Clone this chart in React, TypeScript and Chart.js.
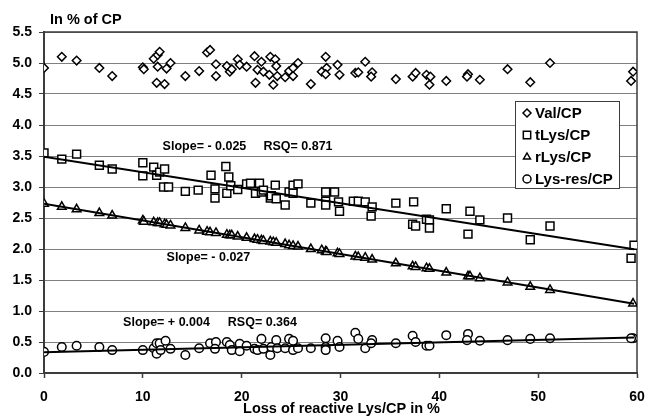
import { useEffect, useRef } from "react";
import { Chart, registerables } from "chart.js";

Chart.register(...registerables);

// Series names in legend order
const seriesNames = ["Val/CP", "tLys/CP", "rLys/CP", "Lys-res/CP"];

// Val/CP
const valX = [0, 1.8, 3.3, 5.6, 6.9, 10.0, 10.1, 11.1, 11.5, 11.7, 11.5, 11.4, 12.2, 12.4, 12.8, 14.3, 15.7, 16.5, 16.8, 17.4, 17.4, 18.5, 18.8, 19.0, 19.6, 19.8, 20.5, 21.3, 21.6, 21.4, 22.0, 22.2, 22.9, 22.8, 23.2, 23.4, 23.5, 23.6, 24.4, 24.8, 25.2, 25.2, 25.7, 27.0, 28.1, 28.5, 28.6, 28.5, 29.7, 29.9, 31.5, 31.8, 32.5, 33.2, 33.1, 35.6, 37.3, 37.6, 38.7, 39.1, 39.0, 40.7, 42.9, 42.8, 44.1, 46.9, 49.2, 51.2, 59.6, 59.4];
const valY = [4.92, 5.10, 5.04, 4.92, 4.79, 4.93, 4.90, 5.07, 5.13, 5.18, 4.94, 4.68, 4.66, 4.91, 5.00, 4.79, 4.87, 5.17, 5.21, 4.98, 4.79, 4.95, 4.86, 4.90, 5.06, 4.97, 4.94, 5.11, 4.89, 4.68, 5.02, 4.86, 5.10, 4.81, 4.65, 5.06, 4.95, 4.79, 4.77, 4.87, 4.92, 4.79, 5.00, 4.66, 4.86, 5.10, 4.92, 4.82, 4.97, 4.81, 4.84, 4.85, 5.02, 4.85, 4.78, 4.74, 4.78, 4.84, 4.81, 4.78, 4.65, 4.71, 4.82, 4.78, 4.73, 4.90, 4.69, 5.00, 4.86, 4.71];

// tLys/CP
const tLysX = [0, 1.8, 3.3, 5.6, 6.9, 10.0, 10.0, 11.1, 11.4, 11.7, 12.2, 12.1, 12.6, 14.3, 15.6, 16.9, 18.4, 18.7, 17.3, 17.3, 18.5, 18.9, 19.6, 20.5, 20.9, 21.4, 21.8, 22.0, 22.2, 22.9, 23.0, 23.4, 23.5, 24.4, 24.8, 25.2, 25.2, 25.7, 27.0, 28.5, 28.5, 28.5, 29.4, 29.8, 29.9, 31.3, 31.8, 32.5, 33.2, 33.1, 35.6, 37.4, 37.3, 37.6, 38.7, 39.0, 39.0, 40.7, 42.9, 43.1, 44.1, 46.9, 49.2, 51.2, 59.7, 59.4];
const tLysY = [3.55, 3.45, 3.53, 3.35, 3.29, 3.39, 3.18, 3.32, 3.19, 3.24, 3.29, 3.00, 3.00, 2.93, 2.95, 3.19, 3.33, 3.16, 2.97, 2.82, 2.90, 3.02, 2.96, 3.05, 3.06, 2.90, 3.06, 2.92, 2.95, 2.82, 2.86, 3.03, 2.81, 2.71, 2.92, 2.90, 3.03, 3.05, 2.74, 2.92, 2.77, 2.71, 2.92, 2.76, 2.61, 2.77, 2.77, 2.76, 2.68, 2.53, 2.74, 2.76, 2.40, 2.37, 2.48, 2.47, 2.34, 2.65, 2.24, 2.61, 2.47, 2.50, 2.15, 2.37, 2.06, 1.85];

// rLys/CP
const rLysX = [0, 1.8, 3.3, 5.6, 6.9, 10.0, 10.1, 11.1, 11.5, 11.7, 12.2, 12.4, 12.8, 14.3, 15.7, 16.5, 16.8, 17.4, 18.5, 18.8, 19.0, 19.6, 20.5, 21.3, 21.6, 22.0, 22.2, 22.9, 23.2, 23.5, 24.4, 24.8, 25.2, 25.7, 27.0, 28.1, 28.5, 28.6, 29.7, 29.9, 31.5, 31.8, 32.5, 33.2, 35.6, 37.3, 37.6, 38.7, 39.0, 40.7, 42.9, 43.1, 44.1, 46.9, 49.2, 51.2, 59.6];
const rLysY = [2.73, 2.68, 2.64, 2.58, 2.54, 2.46, 2.44, 2.43, 2.42, 2.42, 2.40, 2.39, 2.38, 2.34, 2.30, 2.28, 2.27, 2.26, 2.23, 2.22, 2.22, 2.20, 2.18, 2.16, 2.15, 2.14, 2.13, 2.12, 2.11, 2.10, 2.08, 2.06, 2.05, 2.04, 2.00, 1.98, 1.96, 1.95, 1.93, 1.92, 1.88, 1.87, 1.86, 1.83, 1.77, 1.72, 1.71, 1.69, 1.68, 1.62, 1.56, 1.56, 1.53, 1.46, 1.39, 1.34, 1.12];

// Lys-res/CP
const lysResX = [0, 1.8, 3.3, 5.6, 6.9, 10.0, 11.1, 11.4, 11.7, 11.4, 11.8, 12.3, 12.8, 14.3, 15.7, 16.8, 17.4, 17.3, 18.5, 18.8, 19.0, 19.8, 19.8, 20.5, 21.3, 21.6, 22.0, 22.2, 22.9, 23.0, 23.5, 23.6, 24.4, 24.8, 25.2, 25.2, 25.7, 27.0, 28.5, 28.5, 28.5, 29.7, 29.9, 31.5, 31.8, 32.5, 33.2, 33.1, 35.6, 37.3, 37.6, 38.7, 39.0, 40.7, 42.9, 42.8, 44.1, 46.9, 49.2, 51.2, 59.6, 59.4];
const lysResY = [0.34, 0.42, 0.44, 0.42, 0.37, 0.37, 0.40, 0.48, 0.48, 0.31, 0.37, 0.52, 0.39, 0.29, 0.40, 0.48, 0.50, 0.39, 0.50, 0.45, 0.37, 0.47, 0.35, 0.44, 0.39, 0.37, 0.55, 0.39, 0.29, 0.42, 0.53, 0.40, 0.40, 0.55, 0.52, 0.37, 0.40, 0.40, 0.56, 0.42, 0.37, 0.52, 0.42, 0.65, 0.55, 0.40, 0.53, 0.48, 0.48, 0.60, 0.50, 0.44, 0.44, 0.61, 0.63, 0.53, 0.52, 0.53, 0.55, 0.56, 0.56, 0.56];

// Linear trends for tLys, rLys and Lys-res
const trendIntercepts = [3.49, 2.73, 0.335];
const trendSlopes = [-0.025, -0.027, 0.004];
const trendRange = [0, 59.7];

// Axis ticks
const xTicks = [0, 10, 20, 30, 40, 50, 60];
const yTicks = [0, 0.5, 1.0, 1.5, 2.0, 2.5, 3.0, 3.5, 4.0, 4.5, 5.0, 5.5];

// Titles and statistic labels
const yTitle = "In % of CP";
const xTitle = "Loss of reactive Lys/CP in %";
const statTexts = ["Slope= - 0.025", "RSQ= 0.871", "Slope= - 0.027", "Slope= + 0.004", "RSQ= 0.364"];
// where each statistic label starts, in axis units
const statAnchors = [
  [12.0, 3.66],
  [22.2, 3.66],
  [12.4, 1.87],
  [8.0, 0.82],
  [18.6, 0.82],
];

const FONT = "'Liberation Sans', Arial, Helvetica, sans-serif";
const markerStyles = [
  { pointStyle: "rectRot", radius: 4.3 },
  { pointStyle: "rect", radius: 5.6 },
  { pointStyle: "triangle", radius: 5 },
  { pointStyle: "circle", radius: 4.3 },
];

const pts = (xs: number[], ys: number[]) => xs.map((x, i) => ({ x, y: ys[i] }));

function drawMarker(ctx: CanvasRenderingContext2D, kind: string, x: number, y: number, r: number) {
  ctx.beginPath();
  if (kind === "rectRot") {
    ctx.moveTo(x, y - r);
    ctx.lineTo(x + r, y);
    ctx.lineTo(x, y + r);
    ctx.lineTo(x - r, y);
    ctx.closePath();
  } else if (kind === "rect") {
    const s = r * Math.SQRT1_2;
    ctx.rect(x - s, y - s, 2 * s, 2 * s);
  } else if (kind === "triangle") {
    const h = r * 0.866;
    ctx.moveTo(x, y - r);
    ctx.lineTo(x + h, y + r / 2);
    ctx.lineTo(x - h, y + r / 2);
    ctx.closePath();
  } else {
    ctx.arc(x, y, r, 0, Math.PI * 2);
  }
  ctx.fillStyle = "#fff";
  ctx.fill();
  ctx.strokeStyle = "#000";
  ctx.lineWidth = 1.5;
  ctx.stroke();
}

const decorations = {
  id: "decorations",
  beforeDatasetsDraw(chart: any) {
    const { ctx, chartArea: a } = chart;
    ctx.save();
    ctx.strokeStyle = "#3c3c3c";
    ctx.lineWidth = 1.5;
    ctx.beginPath();
    ctx.moveTo(a.left, a.top);
    ctx.lineTo(a.right, a.top);
    ctx.lineTo(a.right, a.bottom);
    ctx.stroke();
    ctx.restore();
  },
  afterDatasetsDraw(chart: any) {
    const { ctx, chartArea: a, scales } = chart;
    ctx.save();
    // statistic labels
    ctx.fillStyle = "#000";
    ctx.font = `bold 12.5px ${FONT}`;
    ctx.textAlign = "left";
    ctx.textBaseline = "middle";
    statTexts.forEach((t, i) => {
      const [vx, vy] = statAnchors[i];
      ctx.fillText(t, scales.x.getPixelForValue(vx), scales.y.getPixelForValue(vy));
    });

    // legend box
    const bx = a.right - 122;
    const by = a.top + 69;
    const bw = 104;
    const bh = 87;
    ctx.fillStyle = "#fff";
    ctx.fillRect(bx, by, bw, bh);
    ctx.strokeStyle = "#3c3c3c";
    ctx.lineWidth = 1;
    ctx.strokeRect(bx + 0.5, by + 0.5, bw, bh);
    ctx.font = `bold 15px ${FONT}`;
    seriesNames.forEach((name, i) => {
      const cy = by + 12 + i * 22;
      const m = markerStyles[i];
      drawMarker(ctx, m.pointStyle, bx + 12, cy, m.pointStyle === "rect" ? 5.2 : 4);
      ctx.fillStyle = "#000";
      ctx.textAlign = "left";
      ctx.textBaseline = "middle";
      ctx.fillText(name, bx + 20, cy + 0.5);
    });

    // axis titles
    ctx.font = `bold 14.5px ${FONT}`;
    ctx.textAlign = "left";
    ctx.fillText(yTitle, a.left + 6, a.top - 12);
    ctx.textAlign = "center";
    ctx.fillText(xTitle, (a.left + a.right) / 2 + 1, a.bottom + 36);
    ctx.restore();
  },
};

export default function App() {
  const canvasRef = useRef<HTMLCanvasElement | null>(null);

  useEffect(() => {
    const canvas = canvasRef.current;
    if (!canvas) return;

    const series = [
      pts(valX, valY),
      pts(tLysX, tLysY),
      pts(rLysX, rLysY),
      pts(lysResX, lysResY),
    ];

    const markerSets = series.map((data, i) => ({
      type: "scatter" as const,
      label: seriesNames[i],
      data,
      showLine: false,
      pointStyle: markerStyles[i].pointStyle,
      pointRadius: markerStyles[i].radius,
      pointBorderWidth: 1.5,
      pointBackgroundColor: "#ffffff",
      pointBorderColor: "#000000",
      order: 4 - i,
    }));

    const trendSets = trendIntercepts.map((b, i) => ({
      type: "scatter" as const,
      label: `trend ${seriesNames[i + 1]}`,
      data: trendRange.map((x) => ({ x, y: b + trendSlopes[i] * x })),
      showLine: true,
      borderColor: "#000000",
      borderWidth: 2,
      pointRadius: 0,
      order: 0,
    }));

    const chart = new Chart(canvas, {
      type: "scatter",
      data: { datasets: [...trendSets, ...markerSets] as any },
      options: {
        animation: false,
        responsive: false,
        maintainAspectRatio: false,
        layout: { padding: { top: 32, right: 8, left: 0, bottom: 0 } },
        plugins: {
          legend: { display: false },
          tooltip: { enabled: false },
          title: { display: false },
        },
        scales: {
          x: {
            type: "linear",
            min: xTicks[0],
            max: xTicks[xTicks.length - 1],
            afterFit: (s: any) => {
              s.height = 44;
              s.paddingLeft = 0;
              s.paddingRight = 0;
            },
            afterBuildTicks: (s: any) => {
              s.ticks = xTicks.map((v) => ({ value: v }));
            },
            ticks: {
              color: "#000",
              font: { family: FONT, size: 14, weight: "bold" },
              padding: 11,
              maxRotation: 0,
              callback: (v: any) => String(v),
            },
            grid: {
              drawOnChartArea: false,
              drawTicks: true,
              tickLength: 5,
              tickColor: "#3c3c3c",
              tickWidth: 1.5,
            },
            border: { color: "#3c3c3c", width: 2 },
          },
          y: {
            type: "linear",
            min: yTicks[0],
            max: yTicks[yTicks.length - 1],
            afterFit: (s: any) => {
              s.width = 44;
              s.paddingTop = 0;
              s.paddingBottom = 0;
            },
            afterBuildTicks: (s: any) => {
              s.ticks = yTicks.map((v) => ({ value: v }));
            },
            ticks: {
              color: "#000",
              font: { family: FONT, size: 14, weight: "bold" },
              padding: 7,
              callback: (v: any) => Number(v).toFixed(1),
            },
            grid: {
              color: "#7f7f7f",
              lineWidth: 1,
              tickLength: 5,
              tickColor: "#3c3c3c",
            },
            border: { color: "#3c3c3c", width: 2 },
          },
        },
      },
      plugins: [decorations],
    });

    return () => chart.destroy();
  }, []);

  return (
    <div style={{ position: "fixed", left: 0, top: 0, width: 645, height: 417, background: "#fff" }}>
      <canvas ref={canvasRef} width={645} height={417} style={{ display: "block" }} />
    </div>
  );
}
